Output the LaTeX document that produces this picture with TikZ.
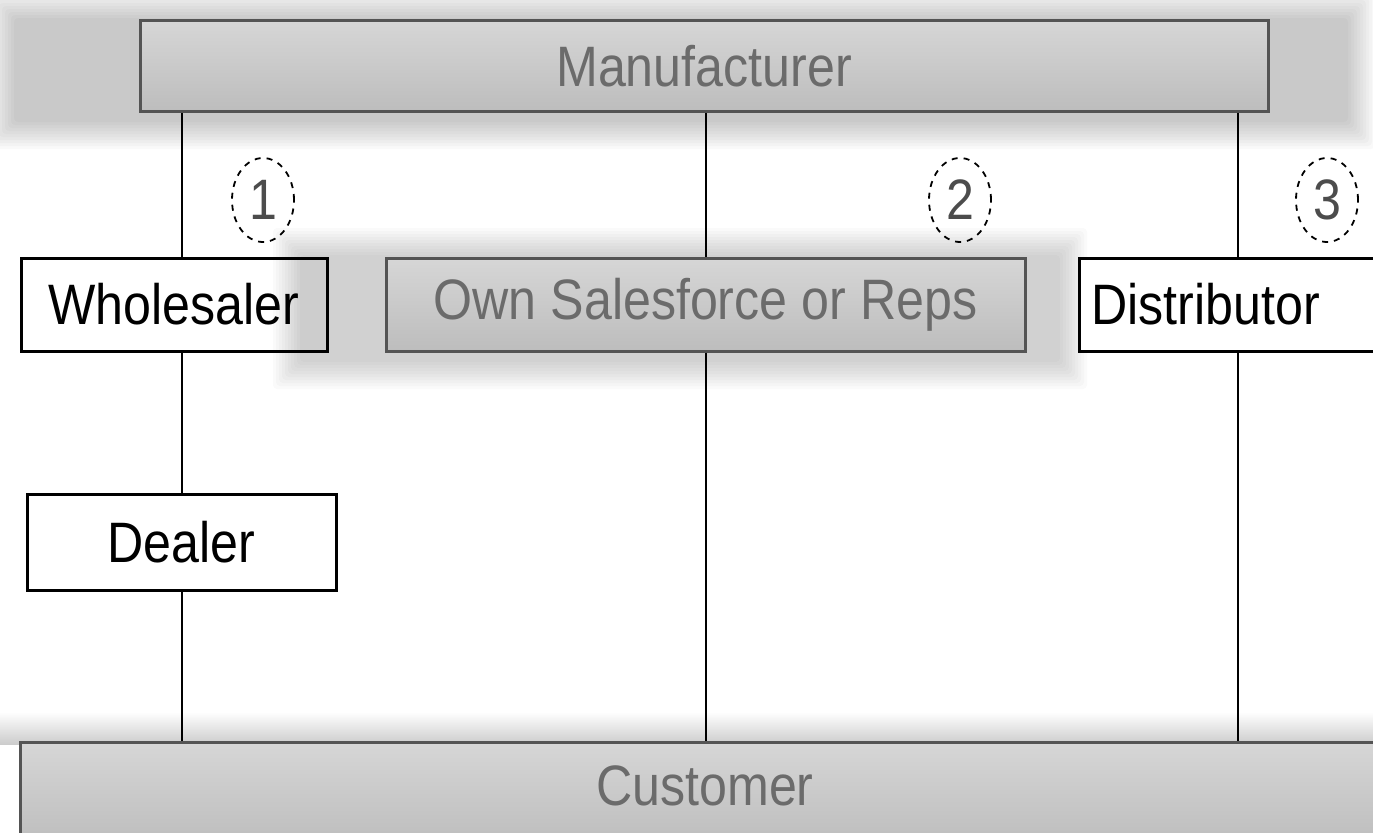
\documentclass[tikz,border=0pt]{standalone}
\usepackage{fontspec}
\setmainfont[FakeStretch=0.88]{Liberation Sans}
\usetikzlibrary{shapes.geometric}

\tikzset{
    chan/.style={draw=black, line width=1.5pt, fill=white, inner sep=0pt,
        font=\fontsize{28.5}{34}\selectfont, text=black},
    level/.style={chan, draw=black!67, top color=black!16, bottom color=black!26, text=black!58},
    tag/.style={ellipse, draw, dashed, line width=0.9pt, minimum width=31pt, minimum height=42pt,
        inner sep=0pt, font=\fontsize{28.5}{34}\selectfont, text=black!70},
    link/.style={line width=1pt},
}

\begin{document}
\begin{tikzpicture}[x=0.5pt, y=-0.5pt]
    \useasboundingbox (0,0) rectangle (1373,832);
    % soft panel behind the manufacturer
    \foreach \i in {0,...,9} {
            \fill[black, opacity=0.022, rounded corners=2pt] (14-3*\i, 18-3*\i) rectangle (1348+3*\i, 122+3*\i);
        }
    \shade[top color=white, bottom color=black!20] (0,712) rectangle (1373,744);  % above customer

    \node[level, minimum width=564pt, minimum height=45.5pt] (manu) at (704,66) {Manufacturer};
    \node[chan, minimum width=153pt, minimum height=46.5pt] (whole) at (174,304.5) {Wholesaler};
    % soft panel behind the salesforce, over the wholesaler's edge
    \foreach \i in {0,...,9} {
            \fill[black, opacity=0.02, rounded corners=2pt] (300-3*\i, 255-3*\i) rectangle (1060+3*\i, 362+3*\i);
        }
    \node[level, minimum width=319.5pt, minimum height=46.5pt] (own) at (705.5,304.5) {Own Salesforce or Reps};
    \node[chan, anchor=west, inner xsep=6pt, text width=148pt, align=left, minimum height=46.5pt] (dist) at (1078,304.5) {Distributor};
    \node[chan, minimum width=154.5pt, minimum height=48pt] (dealer) at (181.5,542) {Dealer};
    \node[level, minimum width=685pt, minimum height=52pt, text depth=8pt] (cust) at (705,794) {Customer};

    \node[tag] (t1) at (263,200) {1};
    \node[tag] (t2) at (960,200) {2};
    \node[tag] (t3) at (1327,200) {3};

    \coordinate (rail) at (1238,0);
    \draw[link] (manu.south -| dealer) -- (whole.north -| dealer);  % left
    \draw[link] (whole.south -| dealer) -- (dealer.north);
    \draw[link] (dealer.south) -- (cust.north -| dealer);
    \draw[link] (manu.south -| own) -- (own.north);  % middle
    \draw[link] (own.south) -- (cust.north -| own);
    \draw[link] (manu.south -| rail) -- (dist.north -| rail);  % right
    \draw[link] (dist.south -| rail) -- (cust.north -| rail);
\end{tikzpicture}
\end{document}
